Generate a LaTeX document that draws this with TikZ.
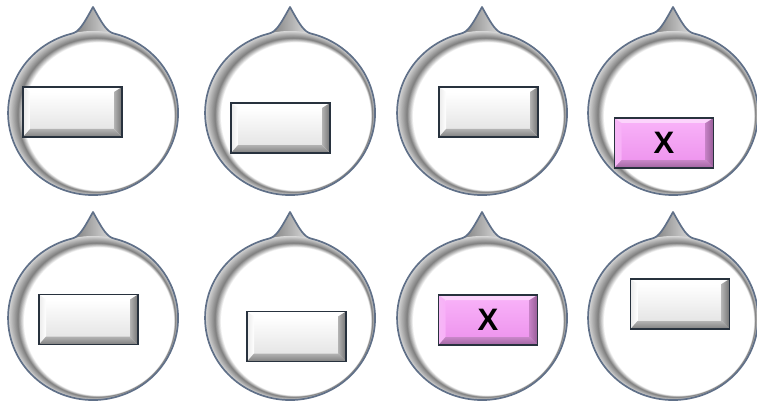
\documentclass[tikz,border=0pt]{standalone}
\usepackage{fontspec}
\newfontfamily\btnfont{Liberation Sans}
\usetikzlibrary{calc}
\definecolor{rimline}{RGB}{96,112,136}
\definecolor{btnborder}{RGB}{40,50,62}
\newcommand\bubblepath[2]{(#1+21.5,#2+79.3) .. controls (#1+14,#2+81) and (#1+10,#2+88) .. (#1,#2+106) .. controls (#1-10,#2+88) and (#1-14,#2+81) .. (#1-21.5,#2+79.3) arc[start angle=104.7,end angle=435.3,x radius=85,y radius=82] -- cycle}
\newcommand\drawbubble[2]{%
  \begin{scope}
    \clip \bubblepath{#1}{#2};
    \shade[left color=black!55, right color=black!8] (#1-25,#2+60) rectangle (#1+25,#2+110);
    \foreach \i in {0,...,28}{%
      \pgfmathsetmacro\bubT{\i/28}%
      \pgfmathsetmacro\bubC{\bubT<0.62 ? 14+36*\bubT/0.62 : 50*(1-\bubT)/0.38}%
      \fill[black!\bubC] (#1+6*\bubT,#2-3.5*\bubT) ellipse [x radius=85-10*\bubT, y radius=82-8*\bubT];
    }
  \end{scope}
  \draw[rimline, line width=1.7pt, line join=round] \bubblepath{#1}{#2};
}
\tikzset{
  graybtn/.code={%
    \def\fTop{white}\def\fBot{black!10}\def\bTop{white}\def\bLeft{black!8}%
    \def\bRa{black!30}\def\bRb{black!55}\def\bBa{black!30}\def\bBb{black!50}},
  pinkbtn/.code={%
    \definecolor{pf1}{RGB}{248,176,248}\definecolor{pf2}{RGB}{238,150,238}%
    \definecolor{pt}{RGB}{252,212,252}\definecolor{pl}{RGB}{246,184,246}%
    \definecolor{pr1}{RGB}{196,128,196}\definecolor{pr2}{RGB}{150,92,150}%
    \definecolor{pb1}{RGB}{200,134,200}\definecolor{pb2}{RGB}{160,100,160}%
    \def\fTop{pf1}\def\fBot{pf2}\def\bTop{pt}\def\bLeft{pl}%
    \def\bRa{pr1}\def\bRb{pr2}\def\bBa{pb1}\def\bBb{pb2}},
  bevel/.style={rectangle, minimum width=99pt, minimum height=50pt, inner sep=0pt,
    draw=btnborder, line width=1.8pt,
    font=\btnfont\bfseries\fontsize{31}{31}\selectfont,
    path picture={
      \path (path picture bounding box.north west) coordinate (o1)
            (path picture bounding box.north east) coordinate (o2)
            (path picture bounding box.south east) coordinate (o3)
            (path picture bounding box.south west) coordinate (o4);
      \path ($(o1)+(7pt,-5pt)$) coordinate (i1) ($(o2)+(-8pt,-5pt)$) coordinate (i2)
            ($(o3)+(-8pt,8pt)$) coordinate (i3) ($(o4)+(7pt,8pt)$) coordinate (i4);
      \shade[top color=\fTop, bottom color=\fBot] (i1) -- (i2) -- (i3) -- (i4) -- cycle;
      \fill[\bTop] (o1) -- (o2) -- (i2) -- (i1) -- cycle;
      \shade[left color=\bLeft, right color=\fTop] (o1) -- (i1) -- (i4) -- (o4) -- cycle;
      \shade[left color=\bRa, right color=\bRb] (o2) -- (o3) -- (i3) -- (i2) -- cycle;
      \shade[top color=\bBa, bottom color=\bBb] (o4) -- (i4) -- (i3) -- (o3) -- cycle;
    }},
  gbtn/.style={graybtn, bevel},
  pbtn/.style={pinkbtn, bevel}
}
\begin{document}
\begin{tikzpicture}[x=1pt,y=1pt]
\useasboundingbox (0,0) rectangle (757,405);
\fill[white] (0,0) rectangle (757,405);
% bubbles
\drawbubble{93}{292}
\drawbubble{290}{292}
\drawbubble{482}{292}
\drawbubble{673}{292}
\drawbubble{93}{87}
\drawbubble{290}{87}
\drawbubble{482}{87}
\drawbubble{673}{87}
% buttons
\node[gbtn] (b1) at (72.5,293) {};
\node[gbtn] (b2) at (280.5,277) {};
\node[gbtn] (b3) at (488.5,293) {};
\node[pbtn] (b4) at (664,262) {X};
\node[gbtn] (b5) at (88.5,85.5) {};
\node[gbtn] (b6) at (296.5,68.5) {};
\node[pbtn] (b7) at (488,85) {X};
\node[gbtn] (b8) at (680,101) {};
\end{tikzpicture}
\end{document}
